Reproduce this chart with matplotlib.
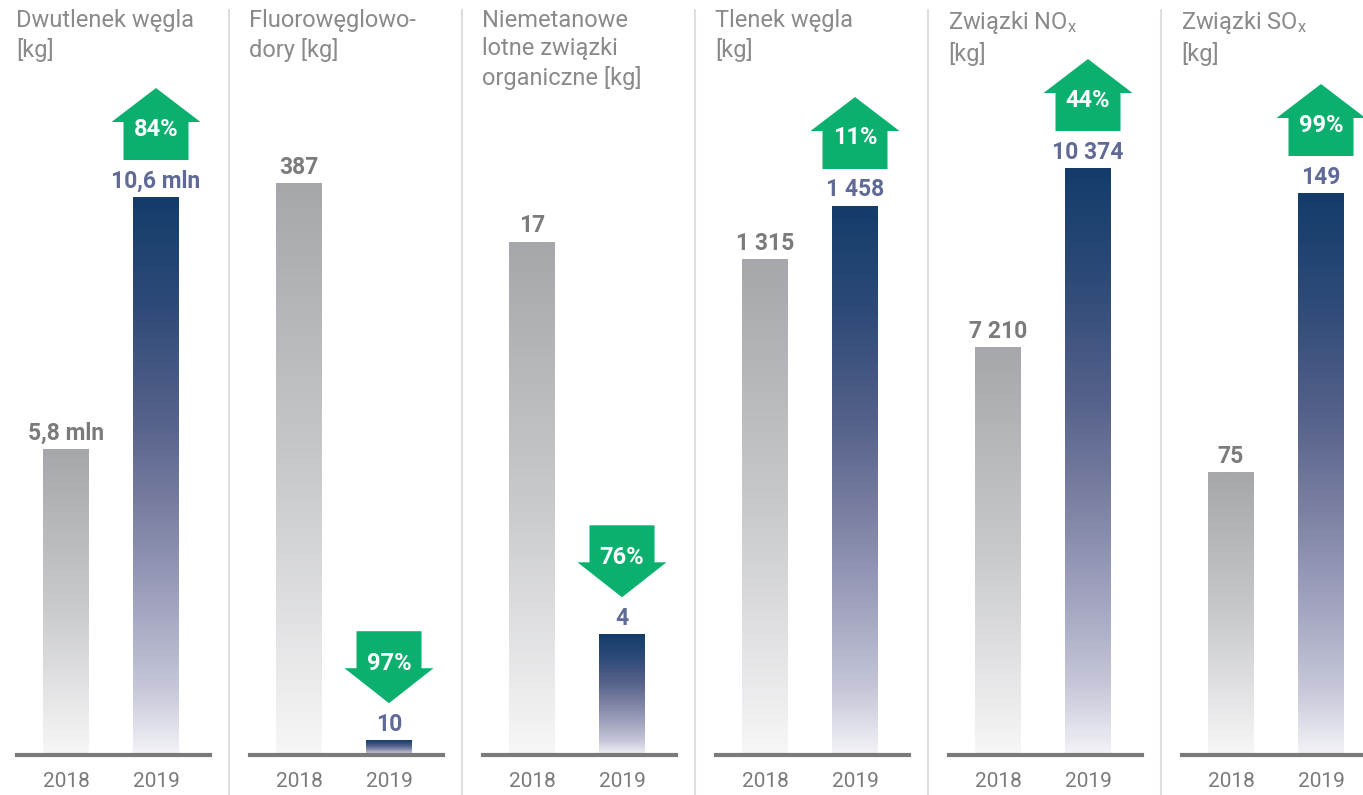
import numpy as np
import matplotlib
matplotlib.use('Agg')
import matplotlib.pyplot as plt
from matplotlib.colors import LinearSegmentedColormap
from matplotlib.patches import Polygon
from matplotlib.lines import Line2D

plt.rcParams['font.family'] = ['Roboto', 'DejaVu Sans']
plt.rcParams['mathtext.default'] = 'regular'

# emissions per category, 2018 vs 2019
titles = ['Dwutlenek węgla\n[kg]',
          'Fluorowęglowo-\ndory [kg]',
          'Niemetanowe\nlotne związki\norganiczne [kg]',
          'Tlenek węgla\n[kg]',
          'Związki NO$_{x}$\n[kg]',
          'Związki SO$_{x}$\n[kg]']
years = ['2018', '2019']
values_2018 = [5.8, 387, 17, 1315, 7210, 75]
values_2019 = [10.6, 10, 4, 1458, 10374, 149]
units = ['mln', '', '', '', '', '']
change_pct = [84, -97, -76, 11, 44, 99]

# pixel height of the tallest bar in each panel (panels have own scales)
tallest_px = [558, 572, 513, 549, 587, 562]

W, H = 1363, 795
dpi = 100
fig = plt.figure(figsize=(W / dpi, H / dpi), dpi=dpi)

grey_cmap = LinearSegmentedColormap.from_list(
    'grey', [(0, '#f7f7f8'), (0.5, '#c8c9cb'), (1, '#a6a7aa')])
blue_cmap = LinearSegmentedColormap.from_list(
    'blue', [(0, '#f3f3f7'), (0.12, '#c5c6d8'), (0.3, '#9a9cba'),
             (0.45, '#787ea0'), (0.6, '#56628b'), (0.8, '#2f4b78'),
             (1, '#133c6b')])
green = '#0bb06f'
grad = np.linspace(0, 1, 256).reshape(-1, 1)

panel_w = 233.0
base_y = 755
ax_left_off = 17
ax_w = 193
unit_px = 90.0           # distance between bar centres
bar_w = 46 / unit_px
x_lo = -49 / unit_px


def fmt(v, unit):
    if unit:
        return '{:.1f} {}'.format(v, unit).replace('.', ',')
    return '{:,.0f}'.format(v).replace(',', ' ')


for i in range(6):
    left = ax_left_off + panel_w * i
    ax = fig.add_axes([left / W, (H - base_y) / H, ax_w / W, base_y / H])
    v = [values_2018[i], values_2019[i]]
    ytop = max(v) * base_y / tallest_px[i]
    k = ytop / base_y      # data units per pixel

    for j, (val, cm) in enumerate(zip(v, [grey_cmap, blue_cmap])):
        ax.imshow(grad, extent=(j - bar_w / 2, j + bar_w / 2, 0, val),
                  origin='lower', aspect='auto', cmap=cm, zorder=2)
        ax.text(j, val + 16 * k, fmt(val, units[i]), ha='center', va='center',
                fontsize=16.5, fontweight='bold',
                color='#7b7b7d' if j == 0 else '#5f6a96', zorder=4)

    # change arrow above the 2019 bar
    top = v[1] + 37 * k
    hw, sw = 44.5 / unit_px, 32.5 / unit_px
    if change_pct[i] > 0:
        b, m, t = top, top + 38 * k, top + 72 * k
        pts = [(1 - sw, b), (1 + sw, b), (1 + sw, m), (1 + hw, m), (1, t),
               (1 - hw, m), (1 - sw, m)]
        ty = top + 31 * k
    else:
        tip, m, t = top, top + 35 * k, top + 72 * k
        pts = [(1, tip), (1 + hw, m), (1 + sw, m), (1 + sw, t), (1 - sw, t),
               (1 - sw, m), (1 - hw, m)]
        ty = top + 40 * k
    ax.add_patch(Polygon(pts, closed=True, facecolor=green, edgecolor='none',
                         zorder=3, clip_on=False))
    ax.text(1, ty, '{}%'.format(abs(change_pct[i])), ha='center', va='center',
            fontsize=17, fontweight='bold', color='white', zorder=5)

    ax.axhline(0, color='#7a7a7a', lw=3, zorder=5, clip_on=False)
    ax.set_xlim(x_lo, x_lo + ax_w / unit_px)
    ax.set_ylim(0, ytop)
    ax.set_xticks([0, 1])
    ax.set_xticklabels(years, fontsize=15, color='#7a7a7a')
    ax.tick_params(axis='x', length=0, pad=12)
    ax.set_yticks([])
    for s in ax.spines.values():
        s.set_visible(False)
    ax.patch.set_alpha(0)

    fig.text((left - 1) / W, 1 - 9 / H, titles[i], ha='left', va='top',
             fontsize=17, color='#8a8a8a', linespacing=1.3)

    if i > 0:
        x = (panel_w * i - 4) / W
        fig.add_artist(Line2D([x, x], [0, 1 - 10 / H], color='#dedede', lw=1.5))

fig.savefig('out.png', dpi=dpi)
